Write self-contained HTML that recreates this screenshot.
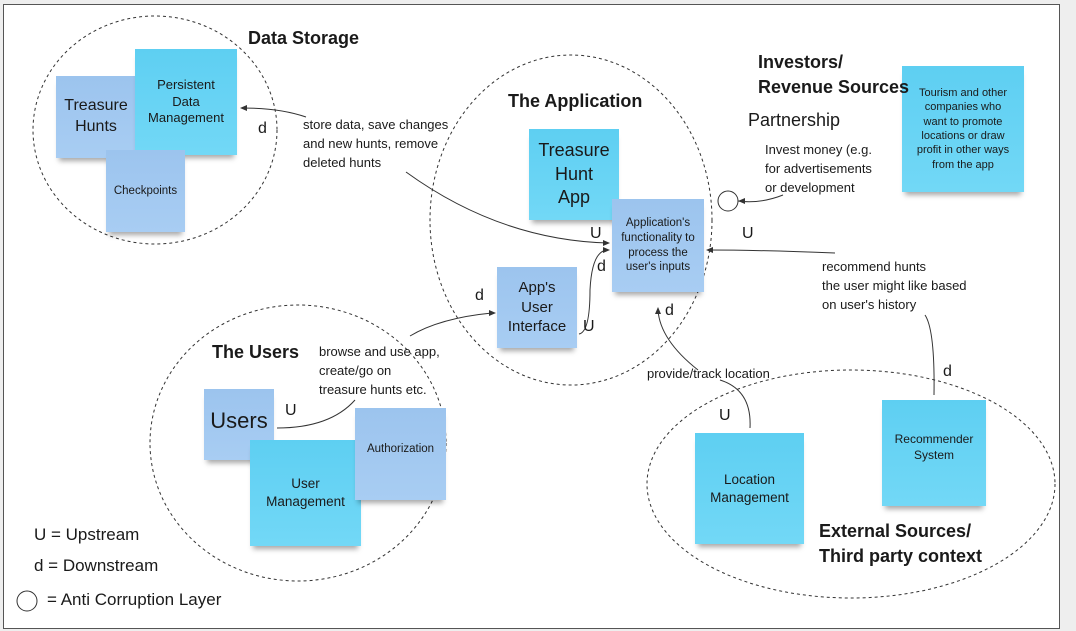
<!DOCTYPE html>
<html><head><meta charset="utf-8"><style>
body{margin:0;width:1076px;height:631px;background:#eeeeee;overflow:hidden;font-family:"Liberation Sans",sans-serif}
.n{position:absolute;display:flex;align-items:center;justify-content:center;text-align:center;color:#1a1a1a;box-shadow:0 6px 5px -3px rgba(0,0,0,.35);line-height:1.3}
.c{background:linear-gradient(#5ecff2,#72d8f6)}
.b{background:linear-gradient(#9cc4ee,#a8cdf3)}
.t{position:absolute;color:#1a1a1a;white-space:nowrap}
.h{font-weight:bold;font-size:18px}
</style></head><body>
<div style="position:absolute;left:3px;top:4px;width:1055px;height:623px;background:#fff;border:1px solid #555"></div>
<svg width="1076" height="631" style="position:absolute;left:0;top:0">
<g fill="none" stroke="#333" stroke-width="1" stroke-dasharray="3,3">
<ellipse cx="155" cy="130" rx="122" ry="114"/>
<ellipse cx="571" cy="220" rx="141" ry="165"/>
<ellipse cx="298" cy="443" rx="148" ry="138"/>
<ellipse cx="851" cy="484" rx="204" ry="114"/>
</g>
<g fill="none" stroke="#333" stroke-width="1">
<circle cx="728" cy="201" r="10" fill="#fff"/>
<circle cx="27" cy="601" r="10"/>
<path d="M306 117 Q280 108 242 108"/>
<path d="M406 172 Q500 240 608 243"/>
<path d="M579 334 Q590 332 590 290 Q592 250 608 250"/>
<path d="M783 195 Q760 204 738 201"/>
<path d="M835 253 Q760 250 707 250"/>
<path d="M277 428 Q330 428 355 400"/>
<path d="M410 336 Q440 318 492 313"/>
<path d="M750 428 Q752 390 720 380"/>
<path d="M698 370 Q660 340 658 310"/>
<path d="M925 315 Q935 330 934 395"/>
</g>
<g fill="#333">
<path d="M240 108 l7 -3 v6z"/>
<path d="M610 243 l-7 -3 v6z"/>
<path d="M610 250 l-7 -3 v6z"/>
<path d="M738 201 l7 -3 v6z"/>
<path d="M706 250 l7 -3 v6z"/>
<path d="M496 313 l-7 -3 v6z"/>
<path d="M658 307 l-3 7 h6z"/>
</g>
</svg>
<div class="n b" style="left:56px;top:76px;width:80px;height:82px;font-size:16px">Treasure<br>Hunts</div>
<div class="n c" style="left:135px;top:49px;width:102px;height:106px;font-size:13px">Persistent<br>Data<br>Management</div>
<div class="n b" style="left:106px;top:150px;width:79px;height:82px;font-size:11.5px">Checkpoints</div>
<div class="n c" style="left:529px;top:129px;width:90px;height:91px;font-size:18px">Treasure<br>Hunt<br>App</div>
<div class="n b" style="left:612px;top:199px;width:92px;height:93px;font-size:11.5px">Application's<br>functionality to<br>process the<br>user's inputs</div>
<div class="n b" style="left:497px;top:267px;width:80px;height:81px;font-size:15px">App's<br>User<br>Interface</div>
<div class="n c" style="left:902px;top:66px;width:122px;height:126px;font-size:11px">Tourism and other<br>companies who<br>want to promote<br>locations or draw<br>profit in other ways<br>from the app</div>
<div class="n b" style="left:204px;top:389px;width:70px;height:71px;font-size:22px;align-items:flex-start"><span style="margin-top:18px">Users</span></div>
<div class="n c" style="left:250px;top:440px;width:111px;height:106px;font-size:13.5px">User<br>Management</div>
<div class="n b" style="left:355px;top:408px;width:91px;height:92px;font-size:11.5px;align-items:flex-start"><span style="margin-top:34px">Authorization</span></div>
<div class="n c" style="left:695px;top:433px;width:109px;height:111px;font-size:13.5px">Location<br>Management</div>
<div class="n c" style="left:882px;top:400px;width:104px;height:106px;font-size:12px;align-items:flex-start"><span style="margin-top:32px">Recommender<br>System</span></div>
<div class="t h" style="left:248px;top:28px">Data Storage</div>
<div class="t h" style="left:508px;top:91px">The Application</div>
<div class="t h" style="left:758px;top:50px;line-height:25px">Investors/<br>Revenue Sources</div>
<div class="t h" style="left:212px;top:342px">The Users</div>
<div class="t h" style="left:819px;top:519px;line-height:25px">External Sources/<br>Third party context</div>
<div class="t" style="left:748px;top:110px;font-size:18px">Partnership</div>
<div class="t" style="left:303px;top:115px;font-size:13px;line-height:19px">store data, save changes<br>and new hunts, remove<br>deleted hunts</div>
<div class="t" style="left:765px;top:140px;font-size:13px;line-height:19px">Invest money (e.g.<br>for advertisements<br>or development</div>
<div class="t" style="left:822px;top:257px;font-size:13px;line-height:19px">recommend hunts<br>the user might like based<br>on user's history</div>
<div class="t" style="left:319px;top:342px;font-size:13px;line-height:19px">browse and use app,<br>create/go on<br>treasure hunts etc.</div>
<div class="t" style="left:647px;top:366px;font-size:13px">provide/track location</div>
<div class="t" style="left:258px;top:120px;font-size:16px">d</div>
<div class="t" style="left:590px;top:225px;font-size:16px">U</div>
<div class="t" style="left:597px;top:258px;font-size:16px">d</div>
<div class="t" style="left:742px;top:225px;font-size:16px">U</div>
<div class="t" style="left:475px;top:287px;font-size:16px">d</div>
<div class="t" style="left:583px;top:318px;font-size:16px">U</div>
<div class="t" style="left:665px;top:302px;font-size:16px">d</div>
<div class="t" style="left:285px;top:402px;font-size:16px">U</div>
<div class="t" style="left:719px;top:407px;font-size:16px">U</div>
<div class="t" style="left:943px;top:363px;font-size:16px">d</div>
<div class="t" style="left:34px;top:525px;font-size:17px">U = Upstream</div>
<div class="t" style="left:34px;top:556px;font-size:17px">d = Downstream</div>
<div class="t" style="left:47px;top:590px;font-size:17px">= Anti Corruption Layer</div>
</body></html>
